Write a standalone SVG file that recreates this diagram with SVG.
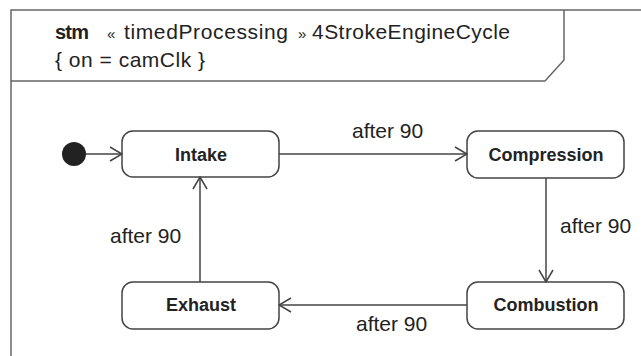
<svg xmlns="http://www.w3.org/2000/svg" width="641" height="356" viewBox="0 0 641 356">
<style>
.frame{fill:none;stroke:#666;stroke-width:1.5}
.state{fill:#fff;stroke:#444;stroke-width:1.5}
.edge{fill:none;stroke:#444;stroke-width:1.5}
.hdr{font-family:"Liberation Sans",Arial,sans-serif;font-size:21px;fill:#222}
.lbl{font-family:"Liberation Sans",Arial,sans-serif;font-size:21px;fill:#222}
.name{font-family:"Liberation Sans",Arial,sans-serif;font-size:18px;font-weight:bold;fill:#222;text-anchor:middle}
</style>
<defs>
<marker id="open" viewBox="0 0 14 16" refX="13" refY="8" markerWidth="14" markerHeight="16" markerUnits="userSpaceOnUse" orient="auto">
<path d="M1,1 L13,8 L1,15" fill="none" stroke="#444" stroke-width="1.5"/>
</marker>
</defs>
<rect width="641" height="356" fill="#fff"/>
<g id="frame">
<path class="frame" d="M11,360 L11,10 L645,10"/>
<path class="frame" d="M11,81 L545,81 L564,60 L564,10"/>
<text class="hdr" y="39"><tspan x="55" font-weight="bold" font-size="20" textLength="34">stm</tspan><tspan x="107" font-size="15">«</tspan><tspan x="124" textLength="164">timedProcessing</tspan><tspan x="298" font-size="15">»</tspan><tspan x="312" textLength="198">4StrokeEngineCycle</tspan></text>
<text class="hdr" x="55" y="67" textLength="150">{ on = camClk }</text>
</g>
<g id="initial">
<circle cx="74" cy="154" r="12" fill="#222"/>
</g>
<g id="intake">
<rect class="state" x="122" y="131" width="157" height="46" rx="11"/>
<text class="name" x="201" y="161">Intake</text>
</g>
<g id="compression">
<rect class="state" x="467" y="131" width="157" height="47" rx="11"/>
<text class="name" x="546" y="161">Compression</text>
</g>
<g id="combustion">
<rect class="state" x="467" y="282" width="157" height="47" rx="11"/>
<text class="name" x="546" y="311">Combustion</text>
</g>
<g id="exhaust">
<rect class="state" x="122" y="282" width="157" height="47" rx="11"/>
<text class="name" x="201" y="311">Exhaust</text>
</g>
<g id="connectors">
<path class="edge" d="M86,154 L122,154" marker-end="url(#open)"/>
<path class="edge" d="M279,154 L467,154" marker-end="url(#open)"/>
<path class="edge" d="M546,178 L546,282" marker-end="url(#open)"/>
<path class="edge" d="M467,305 L279,305" marker-end="url(#open)"/>
<path class="edge" d="M200,282 L200,177" marker-end="url(#open)"/>
<text class="lbl" x="352" y="138">after 90</text>
<text class="lbl" x="560" y="233">after 90</text>
<text class="lbl" x="110" y="243">after 90</text>
<text class="lbl" x="356" y="331">after 90</text>
</g>
</svg>
